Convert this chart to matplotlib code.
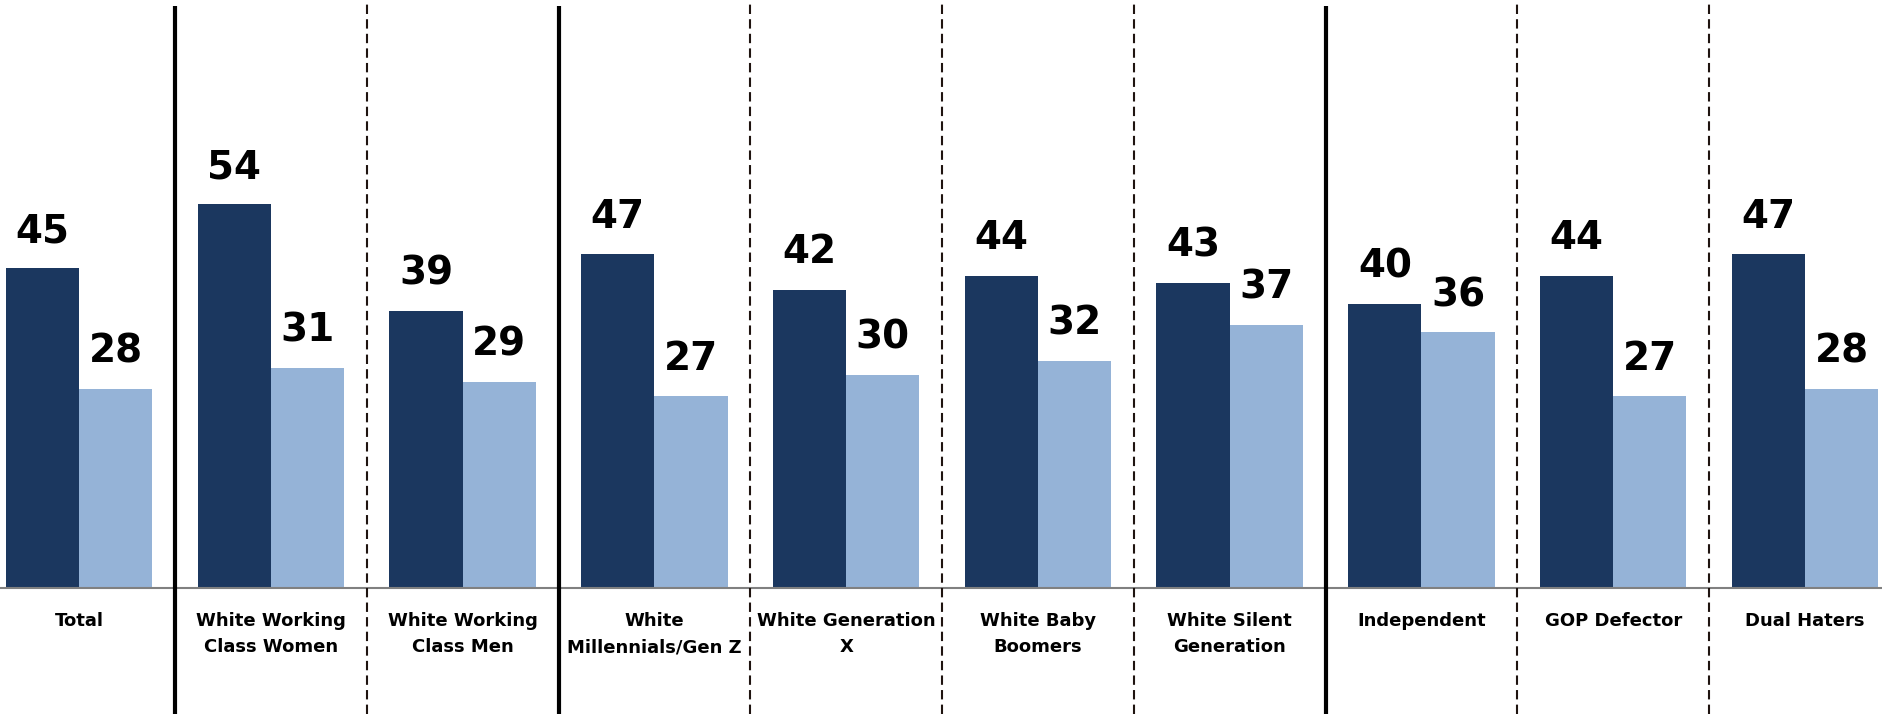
import numpy as np
import matplotlib.pyplot as plt

categories = ["Total", "White Working\nClass Women", "White Working\nClass Men",
              "White\nMillennials/Gen Z", "White Generation\nX", "White Baby\nBoomers",
              "White Silent\nGeneration", "Independent", "GOP Defector", "Dual Haters"]
dark_vals = [45, 54, 39, 47, 42, 44, 43, 40, 44, 47]
light_vals = [28, 31, 29, 27, 30, 32, 37, 36, 27, 28]
# separators after these category indexes are solid, the rest dashed
solid_after = [0, 2, 6]

DARK = '#1b375f'
LIGHT = '#95b3d7'


def main():
    fig = plt.figure(figsize=(18.83, 7.14), dpi=100)
    ax = fig.add_axes([0, 0, 1, 1])
    ax.set_xlim(-0.413, 9.407)
    ax.set_ylim(-17.66, 82.76)
    ax.axis('off')

    x = np.arange(len(categories))
    w = 0.382
    ax.bar(x - w / 2, dark_vals, w, color=DARK, zorder=2)
    ax.bar(x + w / 2, light_vals, w, color=LIGHT, zorder=2)

    # value labels
    for i in range(len(categories)):
        ax.annotate(str(dark_vals[i]), (x[i] - w / 2, dark_vals[i]), xytext=(0, 19),
                    textcoords='offset points', ha='center', va='baseline',
                    fontsize=28, fontweight='bold', color='black')
        ax.annotate(str(light_vals[i]), (x[i] + w / 2, light_vals[i]), xytext=(0, 19),
                    textcoords='offset points', ha='center', va='baseline',
                    fontsize=28, fontweight='bold', color='black')

    # baseline
    ax.axhline(0, color='#808080', lw=1.5, zorder=3)

    # separators
    for i in range(len(categories) - 1):
        if i in solid_after:
            ax.plot([i + 0.5, i + 0.5], [-17.66, 81.9], color='black', lw=3, zorder=4,
                    solid_capstyle='butt')
        else:
            ax.plot([i + 0.5, i + 0.5], [-17.66, 82.76], color='#1f1410', lw=1.5,
                    linestyle=(0, (4.5, 2.5)), zorder=4)

    # category labels
    for i, c in enumerate(categories):
        ax.text(x[i], -3.3, c, ha='center', va='top', fontsize=13,
                fontweight='bold', linespacing=1.6)

    fig.savefig('out.png', dpi=100)


if __name__ == '__main__':
    main()
